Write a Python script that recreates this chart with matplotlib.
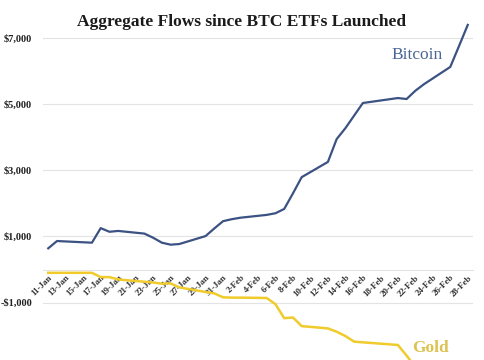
import matplotlib
matplotlib.use("Agg")
import matplotlib.pyplot as plt
import pandas as pd

title = "Aggregate Flows since BTC ETFs Launched"

dates = ["2024-01-11", "2024-01-12", "2024-01-16", "2024-01-17", "2024-01-18", "2024-01-19",
         "2024-01-22", "2024-01-23", "2024-01-24", "2024-01-25", "2024-01-26",
         "2024-01-29", "2024-01-30", "2024-01-31", "2024-02-01", "2024-02-02",
         "2024-02-05", "2024-02-06", "2024-02-07", "2024-02-08", "2024-02-09",
         "2024-02-12", "2024-02-13", "2024-02-14", "2024-02-15", "2024-02-16",
         "2024-02-20", "2024-02-21", "2024-02-22", "2024-02-23",
         "2024-02-26", "2024-02-27", "2024-02-28"]

bitcoin = [640, 860, 810, 1250, 1140, 1165,
           1085, 960, 810, 750, 770,
           1010, 1240, 1460, 1520, 1565,
           1650, 1700, 1830, 2300, 2790,
           3250, 3940, 4270, 4650, 5030,
           5180, 5150, 5400, 5600,
           6120, 6750, 7390]

gold_dates = dates[:30]
gold = [-100, -100, -100, -230, -230, -300,
        -370, -390, -430, -420, -540,
        -680, -720, -840, -850, -850,
        -860, -1050, -1470, -1450, -1710,
        -1780, -1880, -2010, -2180, -2200,
        -2280, -2600, -2950, -3100]

ytick_vals = [-1000, 1000, 3000, 5000, 7000]
ytick_labels = ["-$1,000", "$1,000", "$3,000", "$5,000", "$7,000"]

serif = ["Liberation Serif", "DejaVu Serif"]
blue = "#3c5282"
gold_c = "#f0cb2c"

d = pd.to_datetime(dates)
gd = pd.to_datetime(gold_dates)

fig = plt.figure(figsize=(4.85, 3.6), dpi=100)
ax = fig.add_axes([43/485, 0, 430/485, 1])

ax.plot(d, bitcoin, color=blue, lw=1.6, solid_joinstyle="round", zorder=3)
ax.plot(gd, gold, color=gold_c, lw=1.8, solid_joinstyle="round", zorder=3)

ax.set_ylim(-2734, 8142)
ax.set_xlim(d[0] - pd.Timedelta(days=0.6), d[-1] + pd.Timedelta(days=0.6))

ax.set_yticks(ytick_vals)
ax.set_yticklabels(ytick_labels, fontfamily=serif, fontweight="bold", fontsize=7.5, color="#222222")
ax.tick_params(axis="y", length=0, pad=8)
ax.grid(axis="y", color="#e3e3e3", lw=0.8)

for s in ["top", "right", "left"]:
    ax.spines[s].set_visible(False)
ax.spines["bottom"].set_position(("data", 0))
ax.spines["bottom"].set_color("#e3e3e3")
ax.spines["bottom"].set_linewidth(0.8)

xt = pd.date_range("2024-01-11", "2024-02-28", freq="2D")
ax.set_xticks(xt)
ax.set_xticklabels([f"{t.day}-{t.strftime('%b')}" for t in xt],
                   rotation=45, ha="right", va="top", rotation_mode="anchor",
                   fontfamily=serif, fontweight="bold", fontsize=6.5, color="#333333")
ax.tick_params(axis="x", length=0, pad=3)

ax.text(pd.Timestamp("2024-02-22 05:00"), 6480, "Bitcoin", color="#4a6696",
        fontfamily=serif, fontsize=12.5, ha="center", va="center")
ax.text(pd.Timestamp("2024-02-23 17:00"), -2372, "Gold", color="#dcc250",
        fontfamily=serif, fontweight="bold", fontsize=12.5, ha="center", va="center")

fig.text(242/485, 1 - 22/360, title, fontfamily=serif, fontweight="bold",
         fontsize=12.5, ha="center", va="center", color="#1a1a1a")

fig.savefig("out.png", dpi=100)
